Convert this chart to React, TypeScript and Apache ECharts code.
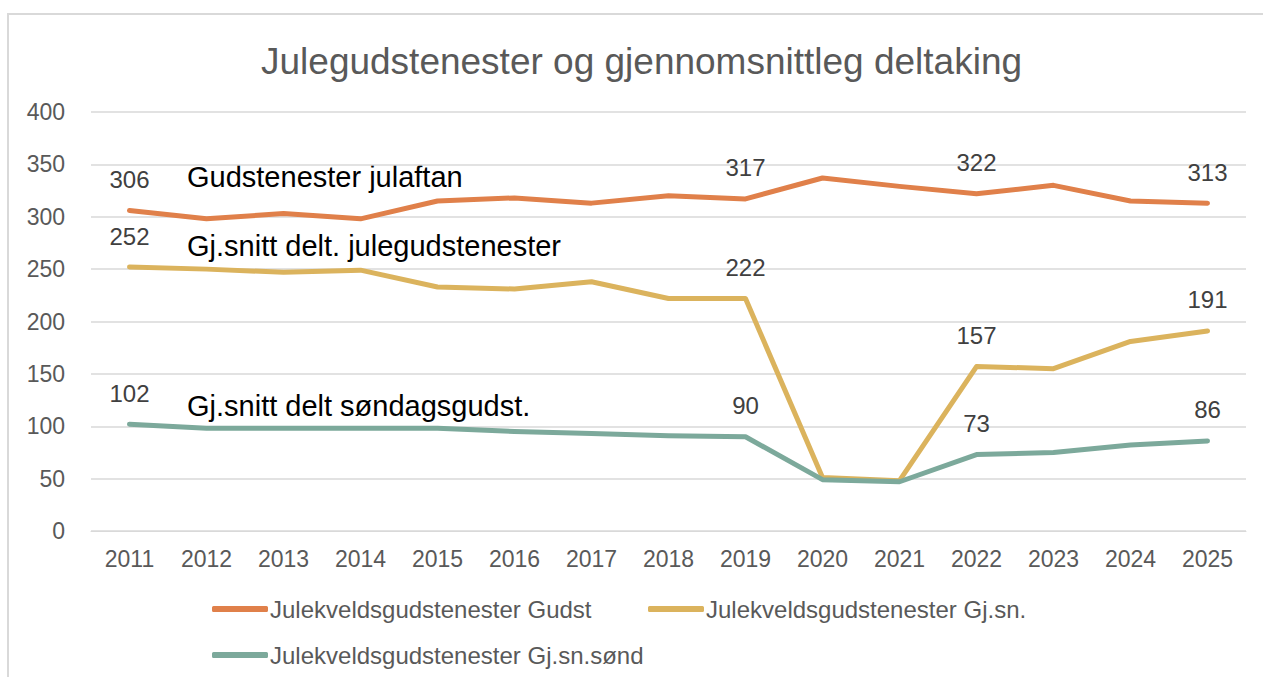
import React, { useEffect, useRef } from "react";
import * as echarts from "echarts";

const years = ["2011","2012","2013","2014","2015","2016","2017","2018","2019","2020","2021","2022","2023","2024","2025"];
const gudst = [306, 298, 303, 298, 315, 318, 313, 320, 317, 337, 329, 322, 330, 315, 313];
const gjsn = [252, 250, 247, 249, 233, 231, 238, 222, 222, 51, 48, 157, 155, 181, 191];
const gjsnSond = [102, 98, 98, 98, 98, 95, 93, 91, 90, 49, 47, 73, 75, 82, 86];
const labeledIdx = [0, 8, 11, 14];
const seriesNames = ["Julekveldsgudstenester Gudst", "Julekveldsgudstenester Gj.sn.", "Julekveldsgudstenester Gj.sn.sønd"];
const yTicks = { min: 0, max: 400, interval: 50 };
const annotations = ["Gudstenester julaftan", "Gj.snitt delt. julegudstenester", "Gj.snitt delt søndagsgudst."];
const titleText = "Julegudstenester og gjennomsnittleg deltaking";

const colors = ["#E0804A", "#DBB35D", "#7CA99B"];
const FONT = "'Liberation Sans', Arial, sans-serif";

function buildData(values: number[]) {
  return values.map((v, i) =>
    labeledIdx.indexOf(i) >= 0 ? { value: v, label: { show: true } } : { value: v }
  );
}

export default function App() {
  const ref = useRef<HTMLDivElement>(null);
  useEffect(() => {
    if (!ref.current) return;
    const chart = echarts.init(ref.current, undefined, { renderer: "svg" });
    const mkSeries = (name: string, vals: number[], color: string) => ({
      name,
      type: "line",
      data: buildData(vals),
      symbol: "circle",
      symbolSize: 0.01,
      showSymbol: true,
      itemStyle: { color },
      lineStyle: { color, width: 5, cap: "round", join: "round" },
      label: { show: false, position: "top", distance: 19, fontSize: 24, color: "#404040", fontFamily: FONT },
      emphasis: { disabled: true },
    });
    const legendBase = {
      icon: "roundRect",
      itemWidth: 56,
      itemHeight: 6,
      padding: 0,
      textStyle: { fontSize: 24, color: "#595959", fontFamily: FONT, padding: [0, 0, 0, -3] },
      selectedMode: false,
    };
    chart.setOption({
      animation: false,
      backgroundColor: "#fff",
      title: {
        text: titleText,
        left: 256,
        top: 38,
        textStyle: { fontSize: 37, color: "#595959", fontWeight: "normal", fontFamily: FONT },
      },
      grid: { left: 91, right: 17, top: 112, bottom: 146 },
      xAxis: {
        type: "category",
        data: years,
        boundaryGap: true,
        axisLine: { show: true, lineStyle: { color: "#D9D9D9", width: 1 } },
        axisTick: { show: false },
        axisLabel: { fontSize: 23, color: "#595959", fontFamily: FONT, margin: 16 },
      },
      yAxis: {
        type: "value",
        min: yTicks.min,
        max: yTicks.max,
        interval: yTicks.interval,
        axisLine: { show: false },
        axisTick: { show: false },
        splitLine: { lineStyle: { color: "#D9D9D9", width: 1.5 } },
        axisLabel: { fontSize: 23, color: "#595959", fontFamily: FONT, margin: 26 },
      },
      legend: [
        { ...legendBase, data: [seriesNames[0]], left: 212, top: 597 },
        { ...legendBase, data: [seriesNames[1]], left: 648, top: 597 },
        { ...legendBase, data: [seriesNames[2]], left: 212, top: 643 },
      ],
      series: [
        mkSeries(seriesNames[0], gudst, colors[0]),
        mkSeries(seriesNames[1], gjsn, colors[1]),
        mkSeries(seriesNames[2], gjsnSond, colors[2]),
      ],
      graphic: [
        {
          type: "rect",
          shape: { x: 8, y: 14, width: 1400, height: 800 },
          style: { fill: "none", stroke: "#D9D9D9", lineWidth: 2 },
          silent: true,
        },
        {
          type: "text", left: 187, top: 162,
          style: { text: annotations[0], fontSize: 29, fill: "#000", fontFamily: FONT },
        },
        {
          type: "text", left: 187, top: 231,
          style: { text: annotations[1], fontSize: 29, fill: "#000", fontFamily: FONT },
        },
        {
          type: "text", left: 187, top: 391,
          style: { text: annotations[2], fontSize: 29, fill: "#000", fontFamily: FONT },
        },
      ],
    });
    return () => chart.dispose();
  }, []);
  return (
    <div
      ref={ref}
      style={{ position: "absolute", left: 0, top: 0, width: 1263, height: 677 }}
    />
  );
}
